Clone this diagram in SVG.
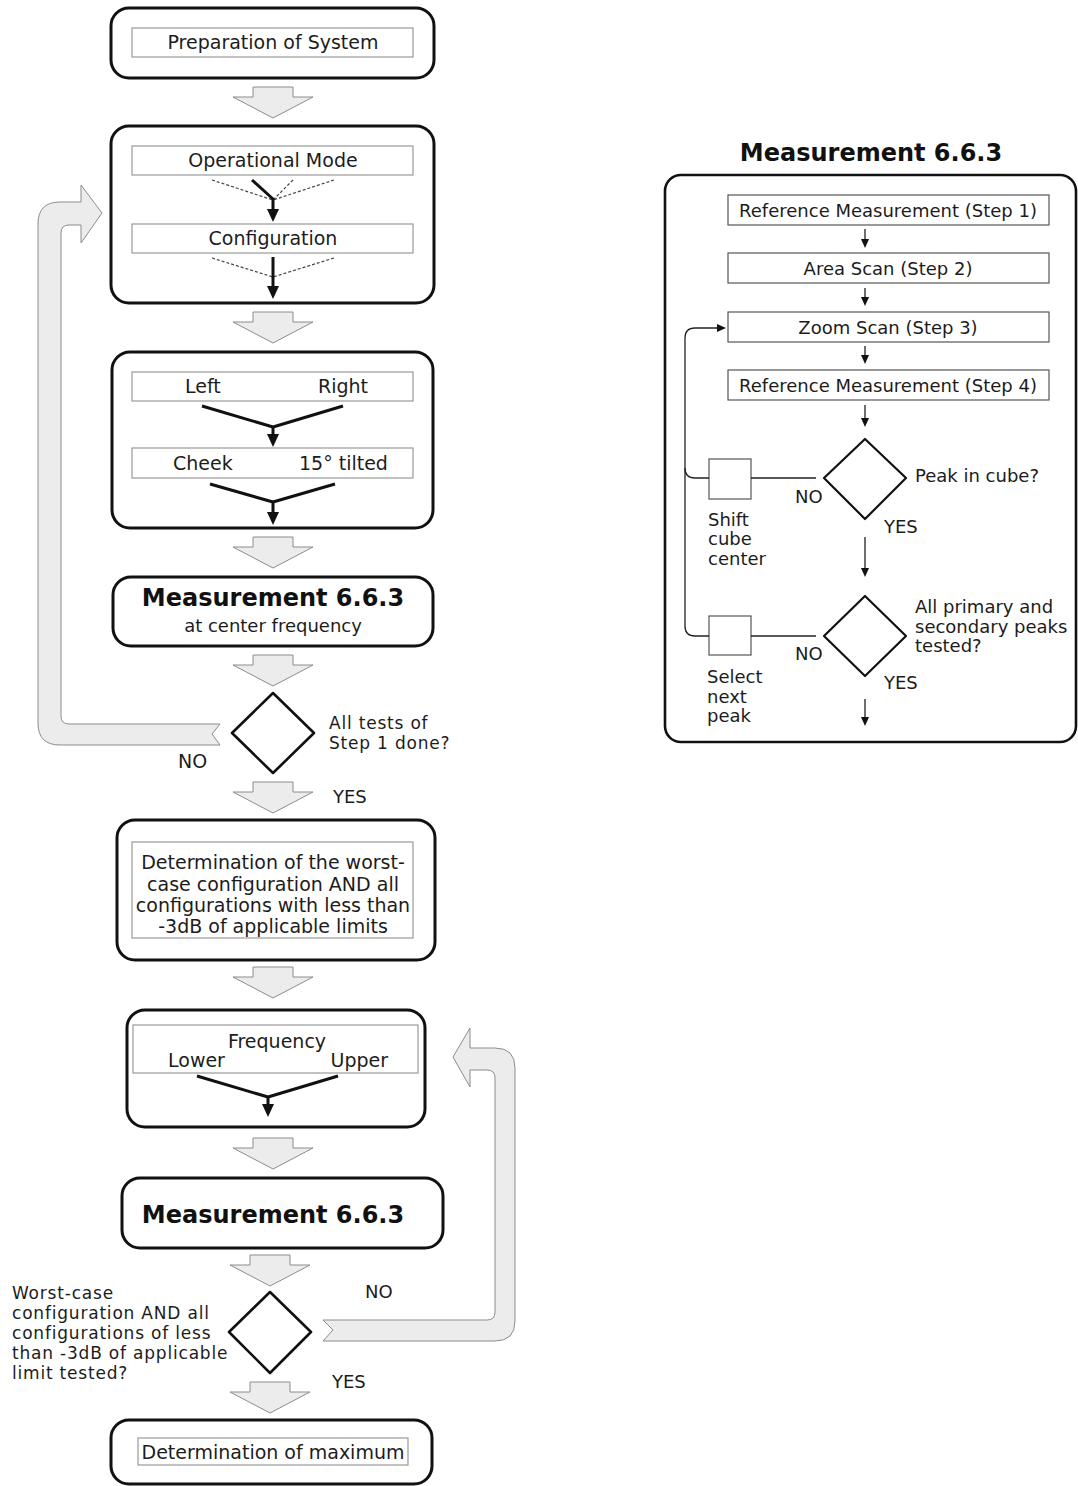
<svg xmlns="http://www.w3.org/2000/svg" xmlns:xlink="http://www.w3.org/1999/xlink" width="1078" height="1486" viewBox="0 0 1078 1486">
<style>
.outer{fill:#fff;stroke:#111;stroke-width:3}
.inner{fill:#fff;stroke:#999;stroke-width:1.2}
.rinner{fill:#fff;stroke:#555;stroke-width:1.2}
.block{fill:#ececec;stroke:#8c8c8c;stroke-width:1}
.dia{fill:#fff;stroke:#111;stroke-width:2.6;stroke-linejoin:round}
.t{font-family:"DejaVu Sans",sans-serif;font-size:19px;fill:#1c1c1c}
.ts{font-family:"DejaVu Sans",sans-serif;font-size:18px;fill:#1c1c1c}
.tq{font-family:"DejaVu Sans",sans-serif;font-size:17px;letter-spacing:0.8px;fill:#1c1c1c}
.tb{font-family:"DejaVu Sans",sans-serif;font-size:24px;font-weight:bold;fill:#111}
.c{text-anchor:middle}
.e{text-anchor:end}
.bold{fill:none;stroke:#111;stroke-width:3;stroke-linejoin:round}
.dash{fill:none;stroke:#444;stroke-width:1.2;stroke-dasharray:3 2}
.thin{fill:none;stroke:#222;stroke-width:1.3}
.head{fill:#111}
</style>
<defs>
<path id="ba" d="M -20 0 L 20 0 L 20 10 L 40 10 L 0 31 L -40 10 L -20 10 Z"/>
<path id="hd" d="M -6 -13 L 6 -13 L 0 0 Z"/>
<path id="sh" d="M -4 -9 L 4 -9 L 0 0 Z"/>
</defs>

<!-- Left flow -->
<g id="n-prep">
<rect class="outer" x="111" y="8" width="323" height="70" rx="18"/>
<rect class="inner" x="132" y="28" width="281" height="29"/>
<text class="t c" x="273" y="49">Preparation of System</text>
</g>

<g id="n-mode">
<rect class="outer" x="111" y="126" width="323" height="177" rx="18"/>
<rect class="inner" x="132" y="146" width="281" height="29"/>
<text class="t c" x="273" y="167">Operational Mode</text>
<rect class="inner" x="132" y="224" width="281" height="29"/>
<text class="t c" x="273" y="245">Configuration</text>
<path class="dash" d="M 212 180 L 273 200 M 293 180 L 273 200 M 334 180 L 273 200"/>
<path class="bold" d="M 252 180 L 273 199 L 273 212"/>
<use href="#hd" x="273" y="222" class="head"/>
<path class="dash" d="M 212 258 L 273 277 M 334 258 L 273 277"/>
<path class="bold" d="M 273 257 L 273 288"/>
<use href="#hd" x="273" y="299" class="head"/>
</g>

<g id="n-side">
<rect class="outer" x="112" y="352" width="321" height="176" rx="18"/>
<rect class="inner" x="132" y="372" width="281" height="29"/>
<text class="t" x="185" y="393">Left</text>
<text class="t" x="318" y="393">Right</text>
<rect class="inner" x="132" y="448" width="281" height="30"/>
<text class="t" x="173" y="470">Cheek</text>
<text class="t" x="299" y="470">15° tilted</text>
<path class="bold" d="M 202 406 L 273 427 L 343 406 M 273 427 L 273 437"/>
<use href="#hd" x="273" y="447" class="head"/>
<path class="bold" d="M 210 484 L 273 502 L 335 484 M 273 502 L 273 515"/>
<use href="#hd" x="273" y="525" class="head"/>
</g>

<g id="n-meas1">
<rect class="outer" x="113" y="577" width="320" height="69" rx="18"/>
<text class="tb c" x="273" y="606">Measurement 6.6.3</text>
<text class="ts c" x="273" y="632">at center frequency</text>
</g>

<g id="n-dec1">
<path class="dia" d="M 273 693 L 314 733 L 273 773 L 232 733 Z"/>
<text class="tq" x="329" y="729">All tests of</text>
<text class="tq" x="329" y="749">Step 1 done?</text>
</g>

<g id="n-worst">
<rect class="outer" x="117" y="820" width="318" height="140" rx="18"/>
<rect class="inner" x="132" y="842" width="281" height="96"/>
<text class="t c" x="273" y="869">Determination of the worst-</text>
<text class="t c" x="273" y="891">case configuration AND all</text>
<text class="t c" x="273" y="912">configurations with less than</text>
<text class="t c" x="273" y="933">-3dB of applicable limits</text>
</g>

<g id="n-freq">
<rect class="outer" x="127" y="1010" width="298" height="117" rx="18"/>
<rect class="inner" x="133" y="1025" width="285" height="48"/>
<text class="t c" x="277" y="1048">Frequency</text>
<text class="t" x="168" y="1067">Lower</text>
<text class="t e" x="388" y="1067">Upper</text>
<path class="bold" d="M 197 1076 L 268 1097 L 338 1076 M 268 1097 L 268 1107"/>
<use href="#hd" x="268" y="1117" class="head"/>
</g>

<g id="n-meas2">
<rect class="outer" x="122" y="1178" width="321" height="70" rx="18"/>
<text class="tb c" x="273" y="1223">Measurement 6.6.3</text>
</g>

<g id="n-dec2">
<path class="dia" d="M 270 1292 L 311 1332 L 270 1373 L 229 1332 Z"/>
<text class="tq" x="12" y="1299">Worst-case</text>
<text class="tq" x="12" y="1319">configuration AND all</text>
<text class="tq" x="12" y="1339">configurations of less</text>
<text class="tq" x="12" y="1359">than -3dB of applicable</text>
<text class="tq" x="12" y="1379">limit tested?</text>
</g>

<g id="n-max">
<rect class="outer" x="111" y="1420" width="321" height="64" rx="18"/>
<rect class="inner" x="138" y="1438" width="270" height="27"/>
<text class="t c" x="273" y="1459">Determination of maximum</text>
</g>

<!-- Left connectors -->
<g id="connectors-left">
<use href="#ba" x="273" y="87" class="block"/>
<use href="#ba" x="273" y="312" class="block"/>
<use href="#ba" x="273" y="537" class="block"/>
<use href="#ba" x="273" y="655" class="block"/>
<use href="#ba" x="273" y="782" class="block"/>
<use href="#ba" x="273" y="967" class="block"/>
<use href="#ba" x="273" y="1138" class="block"/>
<use href="#ba" x="270" y="1255" class="block"/>
<use href="#ba" x="270" y="1382" class="block"/>
<path class="block" d="M 220 724 L 69 724 Q 61 724 61 716 L 61 233 Q 61 225 69 225 L 81 225 L 81 243 L 102 213 L 81 185 L 81 202 L 60 202 Q 38 202 38 224 L 38 723 Q 38 745 60 745 L 220 745 L 212 734 Z"/>
<path class="block" d="M 323 1320 L 487 1320 Q 495 1320 495 1312 L 495 1078 Q 495 1070 487 1070 L 470 1070 L 470 1087 L 453 1057 L 470 1028 L 470 1048 L 495 1048 Q 515 1048 515 1068 L 515 1321 Q 515 1341 495 1341 L 323 1341 L 333 1330 Z"/>
<text class="t" x="178" y="768">NO</text>
<text class="ts" x="333" y="803">YES</text>
<text class="ts" x="365" y="1298">NO</text>
<text class="ts" x="332" y="1388">YES</text>
</g>

<!-- Right panel -->
<g id="panel">
<text class="tb c" x="871" y="161">Measurement 6.6.3</text>
<rect x="665" y="175" width="411" height="567" rx="16" fill="#fff" stroke="#111" stroke-width="2.6"/>
</g>
<g id="r-step1">
<rect class="rinner" x="728" y="195" width="321" height="30"/>
<text class="ts c" x="888" y="217">Reference Measurement (Step 1)</text>
</g>
<g id="r-step2">
<rect class="rinner" x="728" y="253" width="321" height="30"/>
<text class="ts c" x="888" y="275">Area Scan (Step 2)</text>
</g>
<g id="r-step3">
<rect class="rinner" x="728" y="312" width="321" height="30"/>
<text class="ts c" x="888" y="334">Zoom Scan (Step 3)</text>
</g>
<g id="r-step4">
<rect class="rinner" x="728" y="370" width="321" height="30"/>
<text class="ts c" x="888" y="392">Reference Measurement (Step 4)</text>
</g>
<g id="r-dec1">
<path class="dia" d="M 865 439 L 906 478 L 865 519 L 824 478 Z" style="stroke-width:2.2"/>
<text class="ts" x="915" y="482">Peak in cube?</text>
</g>
<g id="r-shift">
<rect class="rinner" x="709" y="459" width="42" height="40"/>
<text class="ts" x="708" y="526">Shift</text>
<text class="ts" x="708" y="545">cube</text>
<text class="ts" x="708" y="565">center</text>
</g>
<g id="r-dec2">
<path class="dia" d="M 865 596 L 906 636 L 865 676 L 824 636 Z" style="stroke-width:2.2"/>
<text class="ts" x="915" y="613">All primary and</text>
<text class="ts" x="915" y="633">secondary peaks</text>
<text class="ts" x="915" y="652">tested?</text>
</g>
<g id="r-select">
<rect class="rinner" x="709" y="616" width="42" height="39"/>
<text class="ts" x="707" y="683">Select</text>
<text class="ts" x="707" y="703">next</text>
<text class="ts" x="707" y="722">peak</text>
</g>
<g id="connectors-right">
<path class="thin" d="M 865 229 L 865 240 M 865 288 L 865 298 M 865 346 L 865 356 M 865 405 L 865 418 M 865 537 L 865 568 M 865 699 L 865 717"/>
<use href="#sh" x="865" y="248" class="head"/>
<use href="#sh" x="865" y="306" class="head"/>
<use href="#sh" x="865" y="364" class="head"/>
<use href="#sh" x="865" y="427" class="head"/>
<use href="#sh" x="865" y="577" class="head"/>
<use href="#sh" x="865" y="726" class="head"/>
<path class="thin" d="M 709 636 L 695 636 Q 685 636 685 626 L 685 338 Q 685 328 695 328 L 717 328"/>
<path class="head" d="M 726 328 L 717 324 L 717 332 Z"/>
<path class="thin" d="M 685 468 Q 685 478 695 478 L 709 478"/>
<path class="thin" d="M 751 478 L 816 478 M 751 636 L 816 636"/>
<text class="ts" x="795" y="503">NO</text>
<text class="ts" x="884" y="533">YES</text>
<text class="ts" x="795" y="660">NO</text>
<text class="ts" x="884" y="689">YES</text>
</g>
</svg>
